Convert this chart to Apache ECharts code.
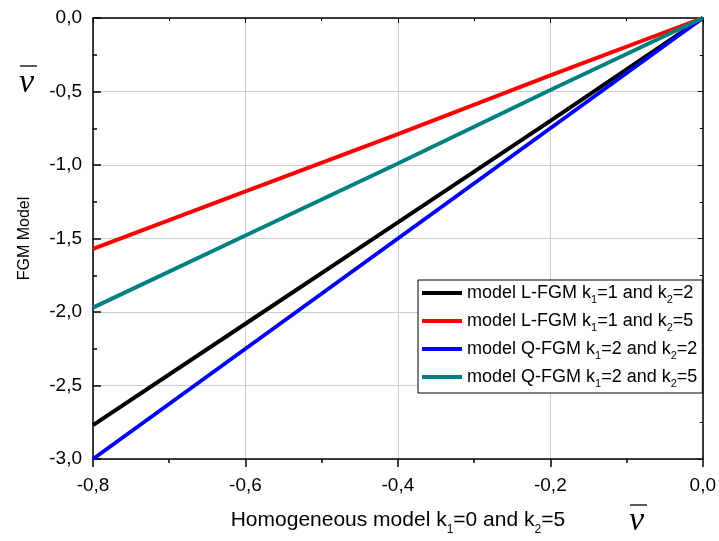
<!DOCTYPE html>
<html><head><meta charset="utf-8">
<script src="https://cdn.jsdelivr.net/npm/echarts@6/dist/echarts.min.js"></script>
<style>html,body{margin:0;padding:0;background:#fff}#c{width:719px;height:541px}</style>
</head><body><div id="c"></div>
<script>
const xValues = [-0.8, -0.6, -0.4, -0.2, 0.0];
const lfgm12 = [-2.77, -2.08, -1.39, -0.70, 0.0];
const lfgm15 = [-1.57, -1.18, -0.79, -0.39, 0.0];
const qfgm22 = [-3.0, -2.25, -1.50, -0.75, 0.0];
const qfgm25 = [-1.97, -1.48, -0.99, -0.49, 0.0];
const seriesNames = ['L12', 'L15', 'Q22', 'Q25'];
const legendLabels = {
  L12: '{a|model L-FGM k}{s|1}{a|=1 and k}{s|2}{a|=2}',
  L15: '{a|model L-FGM k}{s|1}{a|=1 and k}{s|2}{a|=5}',
  Q22: '{a|model Q-FGM k}{s|1}{a|=2 and k}{s|2}{a|=2}',
  Q25: '{a|model Q-FGM k}{s|1}{a|=2 and k}{s|2}{a|=5}'
};
const xTickValues = [-0.8, -0.6, -0.4, -0.2, 0.0];
const yTickValues = [0.0, -0.5, -1.0, -1.5, -2.0, -2.5, -3.0];
const colors = ['#000000', '#ff0000', '#0000ff', '#008080'];

const fmt = v => v.toFixed(1).replace('.', ',').replace('-0,0', '0,0');
const pair = arr => xValues.map((x, i) => [x, arr[i]]);
const font = 'Liberation Sans, Arial, sans-serif';

const chart = echarts.init(document.getElementById('c'));
const tickLab = { fontFamily: font, fontSize: 19, color: '#000' };
chart.setOption({
  animation: false,
  grid: { left: 93, right: 12, top: 18, bottom: 75 },
  legend: {
    orient: 'vertical', left: 418, top: 280,
    data: seriesNames,
    icon: 'rect', itemWidth: 40, itemHeight: 4, itemGap: 7,
    padding: [4, 5, 4, 4],
    borderColor: '#000', borderWidth: 1, backgroundColor: '#fff',
    formatter: n => legendLabels[n],
    textStyle: {
      rich: {
        a: { fontFamily: font, fontSize: 18, color: '#000', lineHeight: 24 },
        s: { fontFamily: font, fontSize: 11, color: '#000', padding: [13, 0, 0, 0] }
      }
    }
  },
  xAxis: [{
    type: 'value', min: -0.8, max: 0, interval: 0.2, position: 'bottom',
    axisLine: { onZero: false, lineStyle: { color: '#000', width: 1.5 } },
    axisTick: { inside: false, length: 8, lineStyle: { color: '#000', width: 1.5 } },
    minorTick: { show: true, splitNumber: 2, length: 4, lineStyle: { color: '#000', width: 1.5 } },
    splitLine: { show: true, lineStyle: { color: '#cccccc', width: 1 } },
    axisLabel: Object.assign({ formatter: v => fmt(v), margin: 17, customValues: xTickValues }, tickLab),
    name: '{a|Homogeneous model k}{s|1}{a|=0 and k}{s|2}{a|=5}',
    nameLocation: 'middle', nameGap: 45,
    nameTextStyle: {
      rich: {
        a: { fontFamily: font, fontSize: 21, color: '#000', lineHeight: 32 },
        s: { fontFamily: font, fontSize: 12, color: '#000', padding: [20, 0, 0, 0] }
      }
    }
  }, {
    type: 'value', min: -0.8, max: 0, interval: 0.2, position: 'top',
    axisLine: { onZero: false, lineStyle: { color: '#000', width: 1.5 } },
    axisTick: { inside: true, length: 5, lineStyle: { color: '#000' } },
    minorTick: { show: true, splitNumber: 2, length: 3, lineStyle: { color: '#000' } },
    axisLabel: { show: false }, splitLine: { show: false }
  }],
  yAxis: [{
    type: 'value', min: -3, max: 0, interval: 0.5, position: 'left',
    axisLine: { onZero: false, lineStyle: { color: '#000', width: 1.5 } },
    axisTick: { inside: true, length: 8, lineStyle: { color: '#000', width: 1.5 } },
    minorTick: { show: true, splitNumber: 2, length: 4, lineStyle: { color: '#000', width: 1.5 } },
    splitLine: { show: true, lineStyle: { color: '#cccccc', width: 1 } },
    axisLabel: Object.assign({ formatter: v => fmt(v), margin: 11 }, tickLab),
    name: 'FGM Model', nameLocation: 'middle', nameGap: 60,
    nameTextStyle: { fontFamily: font, fontSize: 16, color: '#000' }
  }, {
    type: 'value', min: -3, max: 0, interval: 0.5, position: 'right',
    axisLine: { onZero: false, lineStyle: { color: '#000', width: 1.5 } },
    axisTick: { inside: true, length: 5, lineStyle: { color: '#000' } },
    minorTick: { show: true, splitNumber: 2, length: 3, lineStyle: { color: '#000' } },
    axisLabel: { show: false }, splitLine: { show: false }
  }],
  series: [lfgm12, lfgm15, qfgm22, qfgm25].map((arr, i) => ({
    name: seriesNames[i], type: 'line', data: pair(arr),
    showSymbol: false, symbol: 'none',
    lineStyle: { color: colors[i], width: 4 }, itemStyle: { color: colors[i] },
    z: 3
  })),
  graphic: [
    { type: 'text', left: 19, top: 66, style: { text: 'v', font: 'italic 34px "Liberation Serif", serif', fill: '#000' } },
    { type: 'line', shape: { x1: 20, y1: 66, x2: 37, y2: 66 }, style: { stroke: '#000', lineWidth: 1.3 } },
    { type: 'text', left: 629, top: 504, style: { text: 'v', font: 'italic 34px "Liberation Serif", serif', fill: '#000' } },
    { type: 'line', shape: { x1: 630, y1: 505, x2: 647, y2: 505 }, style: { stroke: '#000', lineWidth: 1.3 } }
  ]
});
</script></body></html>
